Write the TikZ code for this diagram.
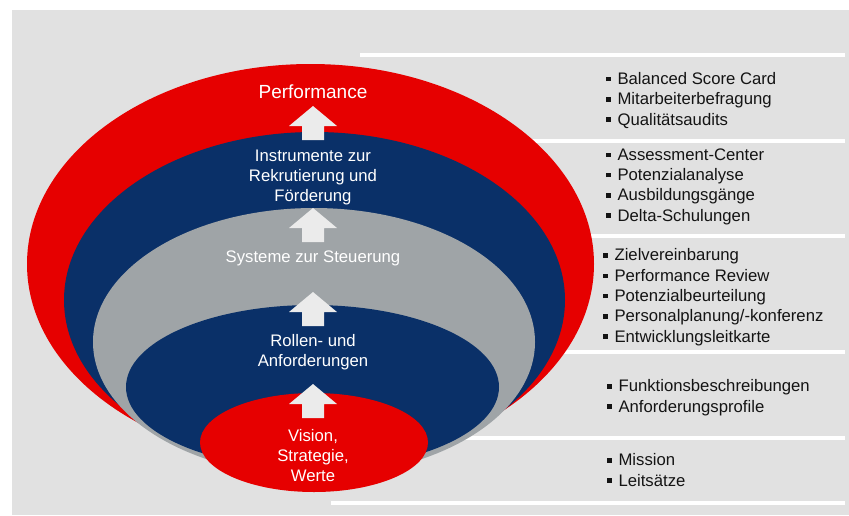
\documentclass[tikz,border=0pt]{standalone}
\usepackage{fontspec}
\setmainfont{Liberation Sans}
\usetikzlibrary{positioning}
\definecolor{hrred}{RGB}{230,0,0}
\definecolor{hrblue}{RGB}{10,48,104}
\definecolor{hrgray}{RGB}{159,164,167}
\definecolor{panelgray}{RGB}{225,225,225}
\definecolor{arrowgray}{RGB}{235,235,235}
\tikzset{
    layer text/.style={text=white, align=center, inner sep=0pt, anchor=base,
        font=\fontsize{16.7}{20}\selectfont},
    list text/.style={text=black!92, align=left, inner sep=0pt, anchor=base west,
        font=\fontsize{16.7}{20.3}\selectfont},
    separator/.style={white, line width=3.3pt},
    uparrow/.style={fill=arrowgray},
}
\newcommand{\sqbullet}{\rule[0.19em]{0.26em}{0.26em}\hspace{0.42em}}

\begin{document}
\begin{tikzpicture}[x=1pt, y=-1pt]
    \useasboundingbox (0,0) rectangle (849,515);
    \fill[panelgray] (12,10) rectangle (849,515);

    % separators of the right column
    \foreach \y in {55,141,236,352,438}
        \draw[separator] (360,\y) -- (845,\y);
    \draw[separator] (331,503) -- (845,503);

    % the nested layers, outside in
    \fill[hrred]  (310.5,264) ellipse [x radius=283.5pt, y radius=200pt];
    \fill[hrblue] (314.5,300) ellipse [x radius=250.5pt, y radius=168pt];
    \fill[hrgray] (314,342)   ellipse [x radius=221pt, y radius=134pt];
    \fill[hrblue] (312.5,387) ellipse [x radius=186.5pt, y radius=82pt];
    \fill[hrred]  (314,442.5) ellipse [x radius=114pt, y radius=49.5pt];

    % arrows between the layers
    \foreach \t in {106,208,292,384}
        \fill[uparrow] (313,\t) -- ++(24,20) -- ++(-13,0) -- ++(0,14)
            -- ++(-22,0) -- ++(0,-14) -- ++(-13,0) -- cycle;

    % base of a multi-line node is its last line
    \node[layer text, font=\fontsize{19}{23}\selectfont] (perf) at (313,98) {Performance};
    \node[layer text] (instr) at (313,201) {Instrumente zur\\Rekrutierung und\\Förderung};
    \node[layer text] (syst) at (313,262) {Systeme zur Steuerung};
    \node[layer text] (roll) at (313,366) {Rollen- und\\Anforderungen};
    \node[layer text] (vision) at (313,481) {Vision,\\Strategie,\\Werte};

    % lists on the right
    \node[list text] (perflist) at (606,125)
        {\sqbullet Balanced Score Card\\\sqbullet Mitarbeiterbefragung\\\sqbullet Qualitätsaudits};
    \node[list text] (instrlist) at (606,221)
        {\sqbullet Assessment-Center\\\sqbullet Potenzialanalyse\\\sqbullet Ausbildungsgänge\\\sqbullet Delta-Schulungen};
    \node[list text] (systlist) at (603,342)
        {\sqbullet Zielvereinbarung\\\sqbullet Performance Review\\\sqbullet Potenzialbeurteilung\\\sqbullet Personalplanung/-konferenz\\\sqbullet Entwicklungsleitkarte};
    \node[list text] (rolllist) at (607,412)
        {\sqbullet Funktionsbeschreibungen\\\sqbullet Anforderungsprofile};
    \node[list text] (visionlist) at (607,486)
        {\sqbullet Mission\\\sqbullet Leitsätze};
\end{tikzpicture}
\end{document}
